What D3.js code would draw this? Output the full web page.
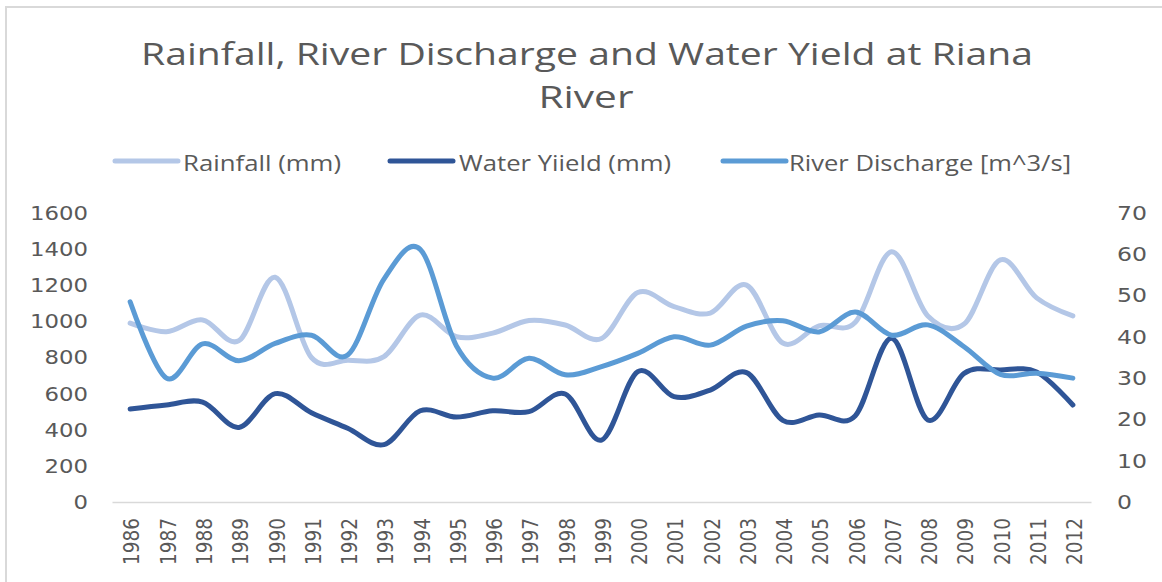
<!DOCTYPE html>
<html>
<head>
<meta charset="utf-8">
<script src="https://cdn.jsdelivr.net/npm/d3@7"></script>
<style>
  body { margin: 0; background: #fff; }
  text { fill: #595959; }
</style>
</head>
<body>
<div class="chart"></div>
<script>
var years = d3.range(1986, 2013).map(String);

var rainfall = [990, 943, 1008, 893, 1244, 800, 785, 805, 1035, 915, 935, 1005, 980, 905,
                1160, 1082, 1046, 1201, 880, 975, 995, 1386, 1030, 985, 1340, 1130, 1030];
var waterYield = [515, 537, 553, 413, 600, 494, 408, 318, 505, 470, 505, 500, 598, 343,
                  722, 583, 620, 716, 452, 482, 478, 906, 454, 712, 731, 720, 537];
var discharge = [48.5, 30.0, 38.3, 34.2, 38.4, 40.4, 35.6, 54.0, 61.2, 37.8, 30.0, 34.8, 30.8, 32.8,
                 36.0, 40.0, 38.0, 42.6, 43.9, 41.2, 46.0, 40.4, 42.9, 37.6, 30.9, 31.2, 30.0];

var leftTicks = [0, 200, 400, 600, 800, 1000, 1200, 1400, 1600];
var rightTicks = [0, 10, 20, 30, 40, 50, 60, 70];

var W = 1162, H = 582;
var font = "'DejaVu Sans', Verdana, sans-serif";

var svg = d3.select(".chart").append("svg")
  .attr("width", W)
  .attr("height", H);

// chart area border (only top/left show in the picture)
svg.append("rect")
  .attr("x", 6).attr("y", 7)
  .attr("width", W + 10).attr("height", H + 10)
  .attr("fill", "none")
  .attr("stroke", "#d9d9d9")
  .attr("stroke-width", 2);

// title
svg.append("text")
  .attr("x", 587).attr("y", 65)
  .attr("text-anchor", "middle")
  .attr("font-family", "Open Sans")
  .attr("font-size", 31)
  .attr("textLength", 892)
  .attr("lengthAdjust", "spacingAndGlyphs")
  .text("Rainfall, River Discharge and Water Yield at Riana");
svg.append("text")
  .attr("x", 586).attr("y", 108)
  .attr("text-anchor", "middle")
  .attr("font-family", "Open Sans")
  .attr("font-size", 31)
  .attr("textLength", 95)
  .attr("lengthAdjust", "spacingAndGlyphs")
  .text("River");

var x = d3.scaleBand().domain(years).range([112, 1091]);
var yL = d3.scaleLinear().domain([0, 1600]).range([502, 213]);
var yR = d3.scaleLinear().domain([0, 70]).range([502, 213]);

var series = [
  { name: "Rainfall (mm)", values: rainfall, scale: yL, color: "#b4c7e7", lx: 112, tx: 183, tw: 158 },
  { name: "Water Yiield (mm)", values: waterYield, scale: yL, color: "#2f5597", lx: 387, tx: 459, tw: 212 },
  { name: "River Discharge [m^3/s]", values: discharge, scale: yR, color: "#5b9bd5", lx: 720, tx: 789, tw: 282 }
];

// legend
var leg = svg.append("g");
series.forEach(function (s) {
  leg.append("line")
    .attr("x1", s.lx + 3).attr("x2", s.lx + 66)
    .attr("y1", 161).attr("y2", 161)
    .attr("stroke", s.color)
    .attr("stroke-width", 5)
    .attr("stroke-linecap", "round");
  leg.append("text")
    .attr("x", s.tx).attr("y", 171)
    .attr("font-family", "Open Sans")
    .attr("font-size", 22)
    .attr("textLength", s.tw)
    .attr("lengthAdjust", "spacingAndGlyphs")
    .text(s.name);
});

// x axis
var xAxis = svg.append("g")
  .attr("transform", "translate(0,502)")
  .call(d3.axisBottom(x).tickSize(0).tickPadding(0));
xAxis.select(".domain").attr("stroke", "#d9d9d9").attr("stroke-width", 1.5);
xAxis.selectAll("text")
  .attr("font-family", font)
  .attr("font-size", 21)
  .attr("textLength", 47)
  .attr("lengthAdjust", "spacingAndGlyphs")
  .attr("text-anchor", "end")
  .attr("dy", "0.35em")
  .attr("transform", "translate(2,16) rotate(-90)")
  .attr("x", 0).attr("y", 0)
  .style("fill", "#595959");

// left axis
var yAxisL = svg.append("g")
  .attr("transform", "translate(88,0)")
  .call(d3.axisLeft(yL).tickValues(leftTicks).tickFormat(d3.format("d")).tickSize(0).tickPadding(0));
yAxisL.select(".domain").remove();
yAxisL.selectAll("text")
  .attr("font-family", font)
  .attr("font-size", 20)
  .attr("textLength", function (d) { return String(d).length * 14.5; })
  .attr("lengthAdjust", "spacingAndGlyphs")
  .style("fill", "#595959");

// right axis
var yAxisR = svg.append("g")
  .attr("transform", "translate(1117,0)")
  .call(d3.axisRight(yR).tickValues(rightTicks).tickFormat(d3.format("d")).tickSize(0).tickPadding(0));
yAxisR.select(".domain").remove();
yAxisR.selectAll("text")
  .attr("font-family", font)
  .attr("font-size", 20)
  .attr("textLength", function (d) { return String(d).length * 15; })
  .attr("lengthAdjust", "spacingAndGlyphs")
  .style("fill", "#595959");

// lines
var cx = function (i) { return x(years[i]) + x.bandwidth() / 2; };
series.forEach(function (s) {
  var line = d3.line()
    .x(function (d, i) { return cx(i); })
    .y(function (d) { return s.scale(d); })
    .curve(d3.curveCardinal.tension(0));
  svg.append("path")
    .datum(s.values)
    .attr("d", line)
    .attr("fill", "none")
    .attr("stroke", s.color)
    .attr("stroke-width", 5)
    .attr("stroke-linecap", "round")
    .attr("stroke-linejoin", "round");
});
</script>
</body>
</html>
